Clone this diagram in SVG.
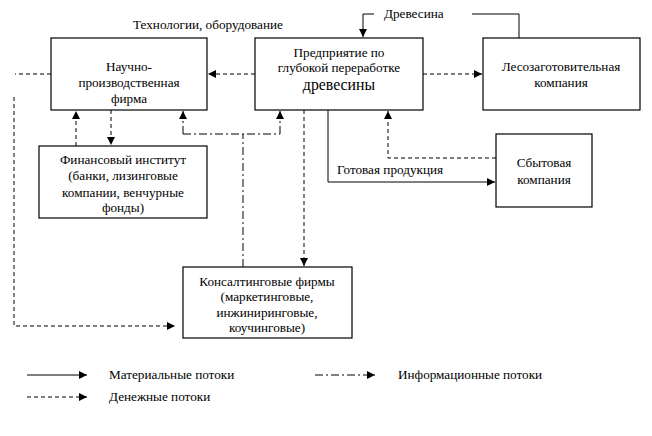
<svg xmlns="http://www.w3.org/2000/svg" width="652" height="436" viewBox="0 0 652 436">
<style>
.box{fill:#fff;stroke:#000;stroke-width:1.2}
.t{font-family:"Liberation Serif","Times New Roman",serif;font-size:13.2px;fill:#000}
.c{text-anchor:middle}
.solid{fill:none;stroke:#000;stroke-width:1}
.dash{fill:none;stroke:#000;stroke-width:1;stroke-dasharray:4 3}
.dd{fill:none;stroke:#000;stroke-width:1;stroke-dasharray:8 3 2 3}
</style>
<defs>
<marker id="ah" viewBox="0 0 10 10" refX="10" refY="5" markerWidth="8" markerHeight="8" markerUnits="userSpaceOnUse" orient="auto">
<path d="M0,0 L10,5 L0,10 Z" fill="#000"/>
</marker>
</defs>
<rect width="652" height="436" fill="#fff"/>
<g id="connectors">
<path class="dash" d="M255,74 H208" marker-end="url(#ah)"/>
<path class="dash" d="M423,74 H482" marker-end="url(#ah)"/>
<path class="dash" d="M51,74 H15 M14,97 V326 H175" marker-end="url(#ah)"/>
<path class="dash" d="M76,146 V111" marker-end="url(#ah)"/>
<path class="dash" d="M111,110 V145" marker-end="url(#ah)"/>
<path class="dd" d="M243,267 V134"/>
<path class="dd" d="M183,134 H280"/>
<path class="dd" d="M183,134 V111" marker-end="url(#ah)"/>
<path class="dd" d="M280,134 V111" marker-end="url(#ah)"/>
<path class="dash" d="M304,110 V266" marker-end="url(#ah)"/>
<path class="solid" d="M328,110 V182 H495" marker-end="url(#ah)"/>
<path class="dash" d="M496,158 H388 V111" marker-end="url(#ah)"/>
<path class="solid" d="M519,38 V14 H472"/>
<path class="solid" d="M374,14 H363 V37" marker-end="url(#ah)"/>
<text class="t" x="384" y="18">Древесина</text>
<text class="t" x="133" y="29">Технологии, оборудование</text>
<text class="t" x="337" y="174">Готовая продукция</text>
</g>
<g id="nauchno">
<rect class="box" x="51" y="38" width="156" height="72"/>
<text class="t c" x="129" y="71">Научно-</text>
<text class="t c" x="129" y="87">производственная</text>
<text class="t c" x="129" y="103">фирма</text>
</g>
<g id="predpriyatie">
<rect class="box" x="255" y="38" width="168" height="72"/>
<text class="t c" x="339" y="57">Предприятие по</text>
<text class="t c" x="339" y="72">глубокой переработке</text>
<text class="t c" x="339" y="90" style="font-size:15.8px">древесины</text>
</g>
<g id="lesozag">
<rect class="box" x="483" y="38" width="157" height="72"/>
<text class="t c" x="561" y="71">Лесозаготовительная</text>
<text class="t c" x="561" y="87">компания</text>
</g>
<g id="sbyt">
<rect class="box" x="496" y="134" width="96" height="73"/>
<text class="t c" x="544" y="167">Сбытовая</text>
<text class="t c" x="544" y="184">компания</text>
</g>
<g id="fin">
<rect class="box" x="39" y="146" width="168" height="72"/>
<text class="t c" x="123" y="164">Финансовый институт</text>
<text class="t c" x="123" y="180">(банки, лизинговые</text>
<text class="t c" x="123" y="197">компании, венчурные</text>
<text class="t c" x="123" y="212">фонды)</text>
</g>
<g id="consult">
<rect class="box" x="183" y="267" width="169" height="71"/>
<text class="t c" x="267" y="286">Консалтинговые фирмы</text>
<text class="t c" x="267" y="301">(маркетинговые,</text>
<text class="t c" x="267" y="317">инжиниринговые,</text>
<text class="t c" x="267" y="332">коучинговые)</text>
</g>
<g id="legend">
<path class="solid" d="M27,375 H87" marker-end="url(#ah)"/>
<text class="t" x="109" y="379">Материальные потоки</text>
<path class="dd" d="M315,375 H375" marker-end="url(#ah)"/>
<text class="t" x="398" y="379">Информационные потоки</text>
<path class="dash" d="M27,397 H87" marker-end="url(#ah)"/>
<text class="t" x="109" y="401">Денежные потоки</text>
</g>
</svg>
